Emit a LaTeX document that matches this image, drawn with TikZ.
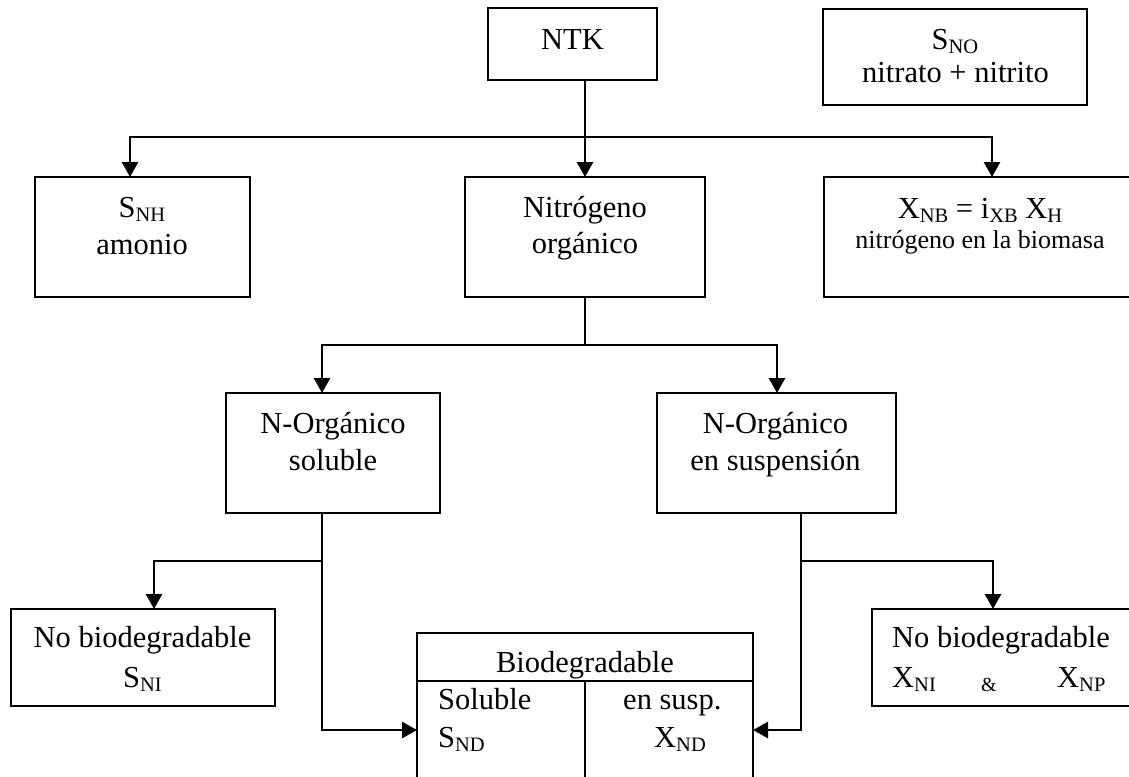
\documentclass[tikz,border=0pt]{standalone}
\usepackage{fontspec}
\setmainfont{Liberation Serif}
\usetikzlibrary{arrows.meta}
% lowered, reduced-size subscript as used for the model variables
\newcommand{\subx}[1]{\raisebox{-4.5pt}{\fontsize{20.5}{20}\selectfont #1}}
\begin{document}
\begin{tikzpicture}[x=1pt,y=-1pt,
  box/.style={draw, line width=2.4pt, inner sep=0pt, outer sep=0pt},
  txt/.style={inner sep=0pt, anchor=base, font=\fontsize{30.5}{36}\selectfont},
  txtl/.style={txt, anchor=base west},
  small/.style={txt, font=\fontsize{26}{30}\selectfont},
  link/.style={line width=2.8pt},
  arr/.style={link, -{Triangle[width=16pt,length=15pt]}}]
\useasboundingbox (0,0) rectangle (1129,776);
\clip (0,0) rectangle (1129,776);

% boxes
\node[box, minimum width=169pt, minimum height=72pt]  (ntk)   at (572.5,44)  {};
\node[box, minimum width=264pt, minimum height=96pt]  (sno)   at (955,57)    {};
\node[box, minimum width=215pt, minimum height=120pt] (snh)   at (142.5,237) {};
\node[box, minimum width=240pt, minimum height=120pt] (norg)  at (585,237)   {};
\node[box, minimum width=312pt, minimum height=120pt] (xnb)   at (980,237)   {};
\node[box, minimum width=214pt, minimum height=120pt] (nsol)  at (333,453)   {};
\node[box, minimum width=239pt, minimum height=120pt] (nsusp) at (776.5,453) {};
\node[box, minimum width=264pt, minimum height=97pt]  (sni)   at (143,657.5) {};
\node[box, minimum width=263pt, minimum height=97pt]  (xni)   at (1003.5,657.5) {};
\node[box, minimum width=336pt, minimum height=167pt] (bio)   at (585,716.5) {};
\draw[box] ([yshift=-48pt]bio.north west) coordinate (hl) -- ([yshift=-48pt]bio.north east);
\draw[box] (bio.north |- hl) -- (bio.south);

% texts
\node[txt] (t1) at (572.5,49.5) {NTK};
\node[txt] (t2) at (955,49) {S\subx{NO}};
\node[txt] (t3) at (955.5,82) {nitrato + nitrito};
\node[txt] (t4) at (142,217) {S\subx{NH}};
\node[txt] (t5) at (142,254) {amonio};
\node[txt] (t6) at (585,217) {Nitrógeno};
\node[txt] (t7) at (585,253) {orgánico};
\node[txt] (t8) at (980,218) {X\subx{NB} = i\subx{XB} X\subx{H}};
\node[small] (t9) at (980,248) {nitrógeno en la biomasa};
\node[txt] (t10) at (333,433) {N-Orgánico};
\node[txt] (t11) at (333,470) {soluble};
\node[txt] (t12) at (775.5,433) {N-Orgánico};
\node[txt] (t13) at (775.5,470) {en suspensión};
\node[txt] (t14) at (142.5,647) {No biodegradable};
\node[txt] (t15) at (142.5,687) {S\subx{NI}};
\node[txtl] (t16) at (892,647) {No biodegradable};
\node[txtl] (t17) at (892,687) {X\subx{NI}};
\node[txtl, font=\fontsize{20}{20}\selectfont] (t18) at (981,691) {\&};
\node[txtl] (t19) at (1057,687) {X\subx{NP}};
\node[txt] (t20) at (585,672) {Biodegradable};
\node[txtl] (t21) at (438,709) {Soluble};
\node[txtl] (t22) at (438,747) {S\subx{ND}};
\node[txtl] (t23) at (623,709) {en susp.};
\node[txtl] (t24) at (654,747) {X\subx{ND}};

% junctions and entry points
\coordinate (j1) at (585,137);
\coordinate (snhin) at (130,177);
\coordinate (xnbin) at (992,177);
\coordinate (j2) at (585,345);
\coordinate (nsolin) at (322,393);
\coordinate (nsuspin) at (777,393);
\coordinate (solout) at (322,513);
\coordinate (j3) at (322,561);
\coordinate (sniin) at (154,609);
\coordinate (suspout) at (801,513);
\coordinate (j4) at (801,561);
\coordinate (xniin) at (993,609);
\coordinate (bioy) at (0,730);

% connectors
\draw[arr] (norg.north |- ntk.south) -- (norg.north);
\draw[arr] (j1) -| (snhin);
\draw[arr] (j1) -| (xnbin);
\draw[link] (norg.south) -- (j2);
\draw[arr] (j2) -| (nsolin);
\draw[arr] (j2) -| (nsuspin);
\draw[arr] (solout) -- (solout |- bioy) -- (bio.west |- bioy);
\draw[arr] (j3) -| (sniin);
\draw[arr] (suspout) -- (suspout |- bioy) -- (bio.east |- bioy);
\draw[arr] (j4) -| (xniin);
\end{tikzpicture}
\end{document}
